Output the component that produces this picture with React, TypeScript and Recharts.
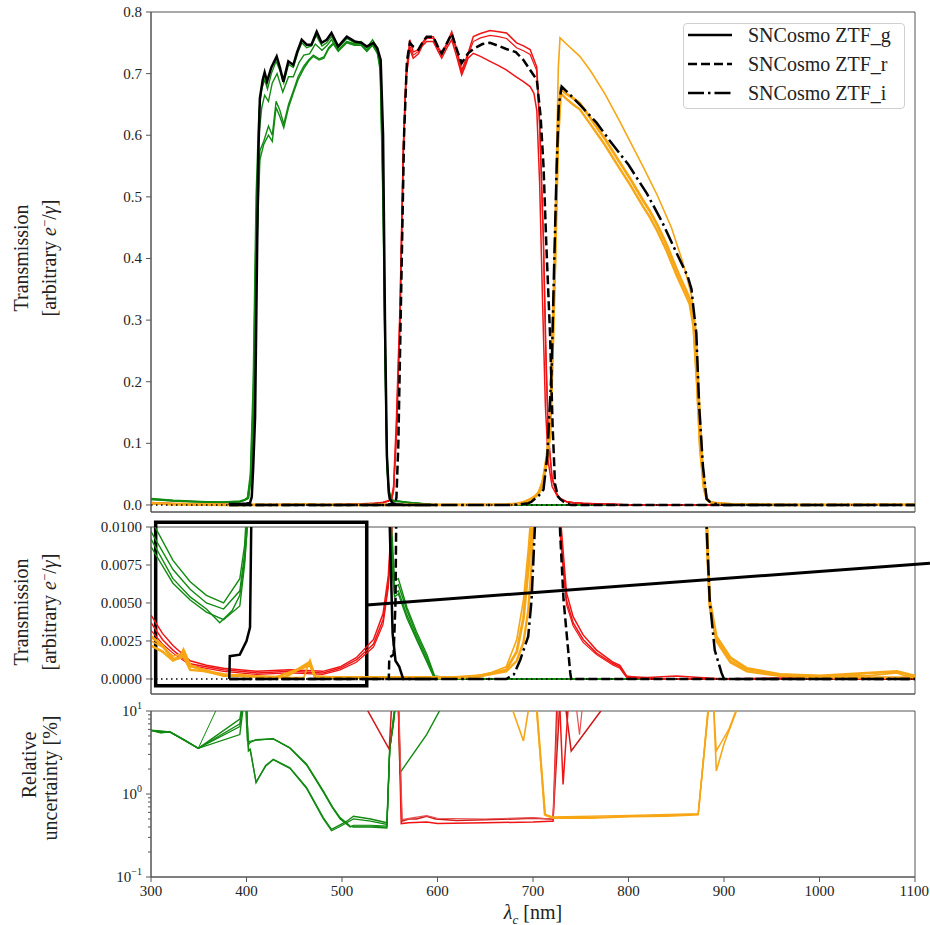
import React from 'react'
import { LineChart, Line, XAxis, YAxis, ReferenceLine, ReferenceArea } from 'recharts'

const SERIF = '"Liberation Serif", "DejaVu Serif", serif'
const GREEN = '#118a11'
const RED = '#f01414'
const ORANGE = '#f7a616'
const AXIS = '#555'

const X_TICKS = [300, 400, 500, 600, 700, 800, 900, 1000, 1100]
const TOP_TICKS = [0, 0.1, 0.2, 0.3, 0.4, 0.5, 0.6, 0.7, 0.8]
const ZOOM_TICKS = [0, 0.0025, 0.005, 0.0075, 0.01]
const UNC_TICKS = [0.1, 0.2, 0.3, 0.4, 0.5, 0.6, 0.7, 0.8, 0.9, 1, 2, 3, 4, 5, 6, 7, 8, 9, 10]
const UNC_EXP: Record<string, string> = { '0.1': '−1', '1': '0', '10': '1' }
const LEGEND_LABELS = ['SNCosmo ZTF_g', 'SNCosmo ZTF_r', 'SNCosmo ZTF_i']

// measured ZTF_g transmissions [nm, T]
const gMeas1 = [[300,0.0105],[323,0.0078],[341,0.0064],[358,0.0055],[376,0.005],[393,0.0066],[398,0.0088],[401,0.012],[404,0.05],[407,0.2],[410,0.5],[413,0.64],[416,0.675],[419,0.69],[422,0.675],[426,0.7],[431,0.72],[435,0.705],[439,0.685],[444,0.715],[449,0.71],[454,0.735],[458,0.75],[463,0.742],[468,0.745],[473,0.762],[479,0.745],[484,0.75],[489,0.76],[496,0.742],[505,0.757],[513,0.75],[520,0.752],[526,0.742],[532,0.755],[537,0.742],[540,0.72],[543,0.55],[545,0.3],[547,0.09],[549,0.025],[552,0.01],[555,0.0065],[559,0.0066],[568,0.0047],[578,0.0031],[589,0.0016],[597,0.0002],[620,0],[1100,0]]
const gMeas2 = [[300,0.0097],[323,0.0072],[341,0.0059],[358,0.005],[376,0.0046],[393,0.0058],[398,0.0082],[401,0.011],[404,0.04],[407,0.17],[410,0.45],[413,0.6],[416,0.645],[419,0.665],[423,0.655],[427,0.685],[432,0.7],[438,0.67],[444,0.695],[449,0.695],[455,0.718],[460,0.73],[466,0.732],[472,0.748],[479,0.738],[484,0.745],[489,0.755],[496,0.738],[505,0.752],[513,0.748],[520,0.75],[526,0.738],[532,0.75],[537,0.738],[540,0.715],[543,0.53],[545,0.28],[547,0.08],[549,0.022],[552,0.009],[555,0.006],[559,0.0062],[568,0.0045],[578,0.0029],[589,0.0014],[597,0.0001],[620,0],[1100,0]]
const gMeas3 = [[300,0.0087],[323,0.0063],[341,0.0052],[358,0.0044],[376,0.0039],[393,0.0048],[398,0.0075],[402,0.011],[405,0.05],[408,0.2],[411,0.45],[414,0.575],[418,0.59],[423,0.615],[427,0.6],[431,0.655],[435,0.64],[439,0.618],[444,0.65],[449,0.672],[454,0.695],[460,0.712],[465,0.722],[470,0.73],[476,0.724],[481,0.727],[486,0.742],[491,0.75],[496,0.738],[505,0.752],[513,0.748],[520,0.748],[526,0.738],[532,0.748],[537,0.735],[540,0.71],[543,0.5],[545,0.25],[547,0.07],[549,0.02],[552,0.008],[555,0.0056],[559,0.0058],[568,0.0042],[578,0.0027],[589,0.0012],[597,0.0001],[620,0],[1100,0]]
const gMeas4 = [[300,0.0092],[323,0.0066],[341,0.0054],[358,0.0046],[372,0.0037],[385,0.0045],[393,0.0055],[398,0.0078],[402,0.011],[405,0.045],[408,0.18],[411,0.42],[414,0.56],[418,0.585],[423,0.6],[427,0.59],[431,0.645],[435,0.63],[439,0.612],[444,0.645],[449,0.668],[454,0.69],[460,0.708],[465,0.72],[470,0.728],[476,0.722],[481,0.725],[486,0.74],[491,0.748],[496,0.736],[505,0.75],[513,0.746],[520,0.746],[526,0.736],[532,0.746],[537,0.733],[540,0.705],[543,0.48],[545,0.23],[547,0.06],[549,0.018],[552,0.0075],[555,0.0054],[559,0.0056],[568,0.004],[578,0.0026],[589,0.0011],[597,0],[1100,0]]

// measured ZTF_r transmissions
const rMeas1 = [[300,0.0037],[312,0.0026],[323,0.0019],[341,0.001],[358,0.0008],[376,0.0006],[411,0.0004],[445,0.0005],[480,0.0004],[498,0.0007],[515,0.00125],[533,0.0023],[543,0.0039],[548.5,0.0063],[552,0.01],[554,0.025],[557,0.12],[560.7,0.306],[564.2,0.576],[567,0.7],[571,0.755],[574.6,0.735],[580,0.739],[584,0.75],[588.7,0.76],[595.6,0.76],[600,0.745],[604.4,0.733],[610,0.75],[614.9,0.768],[620,0.74],[625.3,0.705],[629,0.72],[632,0.733],[637.5,0.76],[645,0.765],[655,0.77],[664,0.768],[672.3,0.766],[682.8,0.75],[690,0.745],[697,0.739],[703.9,0.711],[707,0.62],[710.8,0.441],[713.5,0.25],[716,0.116],[720,0.045],[724.8,0.019],[728.3,0.01],[735,0.0052],[742,0.0037],[752.5,0.0026],[766.5,0.0017],[784,0.001],[791,0.0008],[798,0.00015],[820,0.0001],[850,0.0002],[900,0],[1000,0.0001],[1100,0]]
const rMeas2 = [[300,0.0042],[312,0.003],[323,0.0022],[341,0.0012],[358,0.0009],[376,0.0007],[411,0.0005],[445,0.0006],[480,0.0005],[498,0.0008],[515,0.0014],[533,0.0026],[543,0.0043],[548.5,0.0068],[551.5,0.01],[554,0.03],[557,0.14],[560.7,0.32],[564.2,0.58],[567,0.69],[571,0.74],[574.6,0.725],[580,0.732],[584,0.745],[588.7,0.752],[595.6,0.752],[600,0.738],[604.4,0.725],[610,0.742],[614.9,0.755],[620,0.728],[625.3,0.698],[629,0.712],[632,0.725],[637.5,0.733],[645,0.728],[655,0.72],[664,0.713],[672,0.706],[682,0.695],[690,0.687],[697,0.679],[701,0.668],[704,0.64],[707,0.52],[710,0.33],[713,0.16],[716,0.07],[720,0.03],[724.8,0.016],[728.3,0.011],[735,0.0057],[742,0.0041],[752.5,0.0029],[766.5,0.0019],[784,0.0011],[791,0.0009],[798,0.0002],[820,0],[1100,0]]
const rMeas3 = [[300,0.0032],[312,0.0023],[323,0.0017],[341,0.0009],[358,0.0007],[376,0.0005],[411,0.0003],[445,0.0004],[480,0.0003],[498,0.0006],[515,0.0011],[533,0.0021],[543,0.0036],[548.5,0.006],[552,0.0095],[554,0.022],[557,0.11],[560.7,0.29],[564.2,0.56],[567,0.69],[571,0.745],[574.6,0.73],[580,0.736],[584,0.747],[588.7,0.757],[595.6,0.757],[600,0.742],[604.4,0.73],[610,0.747],[614.9,0.763],[620,0.736],[625.3,0.702],[629,0.716],[632,0.73],[637.5,0.752],[645,0.758],[655,0.762],[664,0.76],[672.3,0.757],[682.8,0.742],[690,0.737],[697,0.731],[703.9,0.705],[707,0.61],[710.8,0.43],[713.5,0.24],[716,0.11],[720,0.042],[724.8,0.018],[728.3,0.0095],[735,0.0049],[742,0.0035],[752.5,0.0024],[766.5,0.0016],[784,0.0009],[791,0.0007],[798,0.0001],[820,0],[1100,0]]

// measured ZTF_i transmissions
const iMeas1 = [[300,0.0025],[312,0.0021],[323,0.0015],[334,0.0017],[341,0.0008],[358,0.0006],[376,0.0002],[393,0.0003],[420,0.0001],[460,0.0001],[466.5,0.00125],[472,0.0002],[500,0.0001],[600,0.0001],[640,0.0002],[655,0.0004],[672,0.0008],[683,0.0026],[690,0.0052],[695,0.0085],[698,0.011],[702,0.015],[706,0.022],[710,0.04],[714,0.08],[717.8,0.13],[720,0.25],[723,0.44],[726.5,0.71],[728.3,0.758],[735,0.748],[742,0.738],[749,0.728],[760,0.705],[775,0.668],[790,0.625],[801.6,0.59],[815,0.55],[830,0.503],[845,0.45],[857,0.393],[861,0.37],[866,0.34],[871,0.279],[874,0.18],[878,0.062],[882,0.012],[885,0.0046],[892,0.0026],[906.7,0.0012],[924,0.0006],[958.6,0.0003],[1000,0.0002],[1050,0.0002],[1081,0.0004],[1090,0.0002],[1100,0.0002]]
const iMeas2 = [[300,0.0028],[312,0.0022],[323,0.0013],[330,0.0014],[334,0.0019],[341,0.0009],[358,0.0005],[376,0.0003],[393,0.0002],[440,0.0001],[466,0.0011],[472,0.0001],[560,0.0001],[640,0.0001],[672,0.0006],[683,0.0018],[690,0.004],[695,0.0072],[698,0.0095],[702,0.013],[706,0.02],[710,0.035],[714,0.07],[717.8,0.12],[720,0.23],[723,0.4],[726,0.6],[729,0.675],[735,0.667],[742,0.66],[749,0.652],[760,0.628],[775,0.595],[790,0.558],[801.6,0.53],[815,0.495],[822,0.478],[830,0.455],[840,0.422],[850,0.384],[855,0.366],[860,0.349],[864,0.335],[868,0.3],[872,0.2],[875,0.1],[879,0.03],[882,0.01],[885,0.0052],[892,0.0028],[906.7,0.0014],[924,0.0007],[958.6,0.0003],[1000,0.0002],[1081,0.0005],[1100,0.0002]]
const iMeas3 = [[300,0.0022],[312,0.0018],[323,0.0012],[334,0.0015],[341,0.0006],[358,0.0005],[376,0.0002],[393,0.0002],[430,0.0001],[466.5,0.0009],[472,0.0001],[520,0.0001],[620,0.0001],[655,0.0003],[672,0.0005],[683,0.0012],[690,0.0024],[695,0.0045],[698,0.007],[701,0.011],[706,0.018],[710,0.032],[714,0.065],[717.8,0.11],[720,0.21],[723,0.38],[726,0.58],[729,0.668],[735,0.659],[742,0.65],[749,0.642],[760,0.618],[775,0.585],[790,0.548],[801.6,0.52],[815,0.485],[822,0.468],[830,0.445],[840,0.412],[850,0.374],[855,0.357],[860,0.34],[864,0.326],[868,0.29],[872,0.19],[875,0.09],[879,0.026],[882,0.009],[885,0.0048],[892,0.0025],[906.7,0.0011],[924,0.0005],[958.6,0.0002],[1000,0.0001],[1100,0.0001]]

// SNCosmo reference bandpasses
const sncG = [[382,0],[382.5,0.0015],[393,0.0016],[400,0.0025],[403.7,0.0034],[405.5,0.013],[407,0.06],[409,0.143],[411,0.4],[412.5,0.576],[414,0.66],[417,0.69],[419,0.702],[421.5,0.687],[426,0.71],[431.6,0.728],[435,0.71],[438.6,0.687],[443.8,0.72],[449,0.714],[453,0.735],[457.8,0.755],[463,0.747],[468,0.747],[473.5,0.768],[478.7,0.75],[484,0.755],[489,0.766],[496,0.744],[505,0.76],[513.6,0.752],[520.6,0.75],[525.9,0.744],[532.8,0.75],[537,0.741],[540.5,0.722],[543,0.6],[545,0.3],[547,0.08],[549,0.02],[550,0.01],[553,0.003],[556,0.0012],[560,0.0008],[563,0.0002],[564,0],[600,0]]
const sncR = [[382,0],[549,0],[549.5,0.0014],[554,0.0016],[556,0.005],[557,0.012],[559,0.1],[562,0.35],[565,0.6],[568,0.72],[571,0.75],[574.6,0.744],[580,0.739],[584,0.75],[588.7,0.76],[595.6,0.76],[600,0.745],[604.4,0.733],[610,0.75],[614.9,0.765],[620,0.74],[625.3,0.717],[629,0.726],[632,0.733],[637.5,0.74],[647,0.748],[655,0.75],[664,0.745],[672,0.74],[682,0.735],[690,0.722],[697,0.706],[704,0.69],[708,0.63],[711,0.55],[714,0.42],[717.8,0.279],[720.5,0.13],[723,0.035],[726,0.014],[728.5,0.0095],[732,0.0052],[737.4,0.0015],[739,0.0004],[740,0],[1100,0]]
const sncI = [[382,0],[672,0],[680,0.0003],[686.6,0.00125],[695,0.0028],[698.5,0.0052],[702,0.01],[706,0.015],[711,0.025],[715,0.08],[719.6,0.224],[722,0.38],[724.8,0.549],[727,0.65],[730,0.679],[740,0.664],[750,0.648],[766.7,0.62],[780,0.592],[800,0.552],[819,0.506],[835,0.46],[850,0.41],[862,0.371],[866,0.35],[868,0.32],[871,0.279],[874,0.16],[878,0.062],[881.8,0.01],[885,0.0052],[890.3,0.0019],[897.4,0.0004],[900,0],[1100,0]]

// relative uncertainty [%]
const gUnc1 = [[300,5.85],[310,5.5],[320,5.58],[335,4.5],[349.5,3.55],[393,5.2],[397,12],[399,12],[401,4.4],[404,4.2],[410,4.5],[428,4.64],[445.5,3.61],[463,2.28],[480.4,1.09],[490,0.7],[498,0.52],[508.5,0.41],[512,0.4],[530,0.4],[547,0.39],[550,3.6],[553.7,6.9],[556,12],[559,12],[560.7,1.8],[588.6,5.2],[604,11]]
const gUnc2 = [[300,5.8],[320,5.55],[349.5,3.55],[393,6.5],[396,12],[400,12],[402,3.9],[405,4.3],[410,4.45],[428,4.6],[445.5,3.55],[463,2.22],[480.4,1.05],[490,0.68],[498,0.5],[508.5,0.4],[512,0.42],[530,0.42],[547,0.41],[550,3.5],[554,8],[556,12]]
const gUnc3 = [[300,5.85],[310,5.45],[320,5.6],[335,4.45],[349.5,3.55],[393,8],[395.5,12],[400,12],[402,3.3],[404,3.45],[410,1.37],[420,2.2],[428,2.62],[445.5,2.07],[463,1.19],[480.4,0.52],[489,0.375],[497,0.42],[505,0.47],[512,0.54],[530,0.5],[547,0.45],[550,3.6],[553.7,6.9],[556,12]]
const gUnc4 = [[300,5.9],[320,5.6],[349.5,3.55],[393,7],[396,12],[400,12],[402,3.6],[404,3.3],[410,1.4],[420,2.15],[428,2.58],[445.5,2.03],[463,1.16],[480.4,0.5],[489,0.36],[497,0.4],[505,0.45],[512,0.5],[530,0.47],[547,0.43],[550,3.4],[554,8],[556,12]]
const gUnc5 = [[300,5.85],[320,5.58],[349.5,3.55],[371,12],[400,12],[401,4.3],[405,4.35],[410,4.48],[428,4.62],[445.5,3.58],[463,2.25],[480.4,1.07],[490,0.69],[498,0.51],[508.5,0.405],[512,0.41],[530,0.41],[547,0.4],[550,3.5],[554,9],[556,12]]
const rUnc1 = [[520,14],[549.5,3.45],[552,12],[556,14],[559,12],[562.6,0.47],[570,0.5],[578,0.5],[588.6,0.54],[598,0.5],[620,0.48],[650,0.49],[680,0.5],[700,0.51],[717.8,0.5],[721,0.5],[728,12],[733,14],[740,3.3],[771,10],[775,12]]
const rUnc2 = [[556,14],[559,12],[562,0.44],[570,0.45],[588.6,0.46],[600,0.44],[650,0.45],[700,0.46],[718,0.47],[721,0.47],[725,12],[728,12],[731.5,1.3],[737,12]]
const rUnc3 = [[556,14],[559.5,12],[563,0.49],[575,0.52],[588.6,0.55],[600,0.51],[650,0.5],[700,0.52],[718,0.5],[721,0.51],[726,12],[745,12],[748.7,5.2],[752,12]]
const iUnc1 = [[670,14],[679,10],[690,4.36],[695,10],[698,14],[700,14],[703.8,10],[712.6,0.57],[721,0.52],[760,0.52],[801.6,0.54],[840,0.55],[873,0.57],[883.6,10],[886,14],[889,12],[892,1.9],[900,4],[913,10],[916,12]]
const iUnc2 = [[700,14],[704.5,10],[713,0.55],[721,0.51],[760,0.51],[801.6,0.53],[840,0.54],[873,0.56],[883,10],[887,14],[889,12],[892,3.3],[905,6],[915,12]]
const iUnc3 = [[700,14],[704,10],[712,0.56],[721,0.53],[801.6,0.55],[873,0.58],[884,12]]

// inset rectangle and connector, in data units of the middle panel
const INSET_BOX = { x1: 304.9, x2: 525.9, y1: -0.00044, y2: 0.01031 }
const INSET_LINK = [{ x: 525.9, y: 0.00487 }, { x: 1115.7, y: 0.00761 }]

const toPts = (arr: number[][]) => arr.map(([x, y]) => ({ x, y }))

type Series = { name: string; pts: number[][]; color: string; w: number; dash?: string }

const TRANS: Series[] = [
  { name: 'g1', pts: gMeas1, color: GREEN, w: 1.4 },
  { name: 'g2', pts: gMeas2, color: GREEN, w: 1.4 },
  { name: 'g3', pts: gMeas3, color: GREEN, w: 1.4 },
  { name: 'g4', pts: gMeas4, color: GREEN, w: 1.4 },
  { name: 'r1', pts: rMeas1, color: RED, w: 1.5 },
  { name: 'r2', pts: rMeas2, color: RED, w: 1.5 },
  { name: 'r3', pts: rMeas3, color: RED, w: 1.2 },
  { name: 'i2', pts: iMeas2, color: ORANGE, w: 2.8 },
  { name: 'i3', pts: iMeas3, color: ORANGE, w: 2.4 },
  { name: 'i1', pts: iMeas1, color: ORANGE, w: 1.6 },
  { name: 'sg', pts: sncG, color: '#000', w: 2.5 },
  { name: 'sr', pts: sncR, color: '#000', w: 2.5, dash: '9 4' },
  { name: 'si', pts: sncI, color: '#000', w: 2.5, dash: '16 4 2.5 4' },
]

const UNC: Series[] = [
  { name: 'ug1', pts: gUnc1, color: GREEN, w: 1.4 },
  { name: 'ug2', pts: gUnc2, color: GREEN, w: 1.2 },
  { name: 'ug3', pts: gUnc3, color: GREEN, w: 1.4 },
  { name: 'ug4', pts: gUnc4, color: GREEN, w: 1.2 },
  { name: 'ug5', pts: gUnc5, color: GREEN, w: 1 },
  { name: 'ur1', pts: rUnc1, color: '#d01818', w: 1.5 },
  { name: 'ur2', pts: rUnc2, color: RED, w: 1.5 },
  { name: 'ur3', pts: rUnc3, color: '#e85050', w: 1.2 },
  { name: 'ui1', pts: iUnc1, color: ORANGE, w: 1.6 },
  { name: 'ui2', pts: iUnc2, color: ORANGE, w: 1.4 },
  { name: 'ui3', pts: iUnc3, color: ORANGE, w: 1.4 },
]

const renderLines = (list: Series[]) =>
  list.map(s => (
    <Line
      key={s.name}
      data={toPts(s.pts)}
      dataKey="y"
      type="linear"
      stroke={s.color}
      strokeWidth={s.w}
      strokeDasharray={s.dash}
      dot={false}
      activeDot={false}
      isAnimationActive={false}
    />
  ))

// serif tick labels
const yTick = (digits: number) => (props: any) => (
  <text x={props.x} y={props.y} dy={5} textAnchor="end" fontSize={15} fill="#222" fontFamily={SERIF}>
    {Number(props.payload.value).toFixed(digits)}
  </text>
)

const XTick = (props: any) => (
  <text x={props.x} y={props.y} dy={12} textAnchor="middle" fontSize={15} fill="#222" fontFamily={SERIF}>
    {props.payload.value}
  </text>
)

function LogTick(props: any) {
  const { x, y, payload } = props
  const v = payload.value
  const lg = Math.log10(v)
  const major = Math.abs(lg - Math.round(lg)) < 1e-6
  const ax = x + 9
  return (
    <g>
      <line x1={ax - (major ? 5 : 3)} x2={ax} y1={y} y2={y} stroke={AXIS} />
      {major && (
        <text x={x} y={y + 5} textAnchor="end" fontSize={15} fill="#222" fontFamily={SERIF}>
          10<tspan dy={-7} fontSize={10}>{UNC_EXP[String(v)]}</tspan>
        </text>
      )}
    </g>
  )
}

function VLabel({ x, y, children }: { x: number; y: number; children: React.ReactNode }) {
  return (
    <div
      style={{
        position: 'absolute', left: x, top: y, transform: 'translate(-50%, -50%) rotate(-90deg)',
        whiteSpace: 'nowrap', fontSize: 20, fontFamily: SERIF, color: '#222', lineHeight: 1,
      }}
    >
      {children}
    </div>
  )
}

const ArbUnit = () => (
  <span>[arbitrary <i>e</i><sup style={{ fontSize: 13 }}>−</sup>/<i>γ</i>]</span>
)

function LegendBox() {
  const dashes = [undefined, '9 4', '16 4 2.5 4']
  return (
    <div
      style={{
        position: 'absolute', left: 683, top: 23, width: 220, height: 84, border: '1px solid #d0d0d0',
        borderRadius: 4, background: 'rgba(255,255,255,0.85)', fontFamily: SERIF, fontSize: 20, color: '#222',
      }}
    >
      {LEGEND_LABELS.map((lab, i) => (
        <div key={lab} style={{ position: 'absolute', left: 0, top: 11 + i * 29 - 12, height: 24, width: 220 }}>
          <svg width={46} height={24} style={{ position: 'absolute', left: 3, top: 0 }}>
            <line x1={1} x2={45} y1={12} y2={12} stroke="#000" strokeWidth={2.5} strokeDasharray={dashes[i]} />
          </svg>
          <span style={{ position: 'absolute', left: 64, top: 1, lineHeight: '22px', whiteSpace: 'nowrap' }}>{lab}</span>
        </div>
      ))}
    </div>
  )
}

const xAxisProps = {
  dataKey: 'x',
  type: 'number' as const,
  domain: [300, 1100],
  ticks: X_TICKS,
  allowDataOverflow: true,
  stroke: AXIS,
  tickSize: 5,
}

export default function App() {
  return (
    <div style={{ position: 'absolute', left: 0, top: 0, width: 930, height: 925, background: '#fff', fontFamily: SERIF }}>
      {/* top panel: full transmission */}
      <div style={{ position: 'absolute', left: 0, top: 0 }}>
        <LineChart width={930} height={530} margin={{ top: 12, right: 15, bottom: 10, left: 0 }}>
          <XAxis {...xAxisProps} tick={false} height={8} />
          <YAxis
            type="number" domain={[-0.0114, 0.8]} ticks={TOP_TICKS} allowDataOverflow width={151}
            tick={yTick(1)} tickSize={5} tickMargin={4} stroke={AXIS}
          />
          <ReferenceArea x1={300} x2={1100} y1={-0.0114} y2={0.8} fill="none" stroke={AXIS} strokeWidth={1} ifOverflow="visible" />
          {renderLines(TRANS)}
          <ReferenceLine y={0} stroke="#000" strokeWidth={1.5} strokeDasharray="1.5 3.5" />
        </LineChart>
        <LegendBox />
      </div>

      {/* middle panel: zoom on the low transmission */}
      <div style={{ position: 'absolute', left: 0, top: 515 }}>
        <LineChart width={930} height={197} margin={{ top: 12, right: 15, bottom: 10, left: 0 }}>
          <XAxis {...xAxisProps} tick={false} height={8} />
          <YAxis
            type="number" domain={[-0.00099, 0.01]} ticks={ZOOM_TICKS} allowDataOverflow width={151}
            tick={yTick(4)} tickSize={5} tickMargin={4} stroke={AXIS}
          />
          <ReferenceArea x1={300} x2={1100} y1={-0.00099} y2={0.01} fill="none" stroke={AXIS} strokeWidth={1} ifOverflow="visible" />
          {renderLines(TRANS)}
          <ReferenceLine y={0} stroke="#000" strokeWidth={1.5} strokeDasharray="1.5 3.5" />
          <ReferenceArea {...INSET_BOX} fill="none" stroke="#000" strokeWidth={3.5} ifOverflow="visible" />
          <ReferenceLine segment={INSET_LINK} stroke="#000" strokeWidth={3} ifOverflow="visible" />
        </LineChart>
      </div>

      {/* bottom panel: relative uncertainty */}
      <div style={{ position: 'absolute', left: 0, top: 700 }}>
        <LineChart width={930} height={217} margin={{ top: 11, right: 15, bottom: 10, left: 0 }}>
          <XAxis {...xAxisProps} tick={XTick} tickMargin={2} height={30} />
          <YAxis
            type="number" scale="log" domain={[0.1, 10]} ticks={UNC_TICKS} allowDataOverflow width={151}
            tick={<LogTick />} tickLine={false} tickSize={5} tickMargin={4} stroke={AXIS} interval={0}
          />
          <ReferenceArea x1={300} x2={1100} y1={0.1} y2={10} fill="none" stroke={AXIS} strokeWidth={1} ifOverflow="visible" />
          {renderLines(UNC)}
        </LineChart>
      </div>

      <VLabel x={21} y={258}>Transmission</VLabel>
      <VLabel x={48} y={258}><ArbUnit /></VLabel>
      <VLabel x={21} y={612}>Transmission</VLabel>
      <VLabel x={48} y={612}><ArbUnit /></VLabel>
      <VLabel x={29} y={765}>Relative</VLabel>
      <VLabel x={50} y={778}>uncertainty [%]</VLabel>

      <div style={{ position: 'absolute', left: 533, top: 914, transform: 'translate(-50%, -50%)', fontSize: 20, fontFamily: SERIF, color: '#222', whiteSpace: 'nowrap' }}>
        <i>λ</i><sub style={{ fontSize: 13 }}><i>c</i></sub> [nm]
      </div>
    </div>
  )
}
